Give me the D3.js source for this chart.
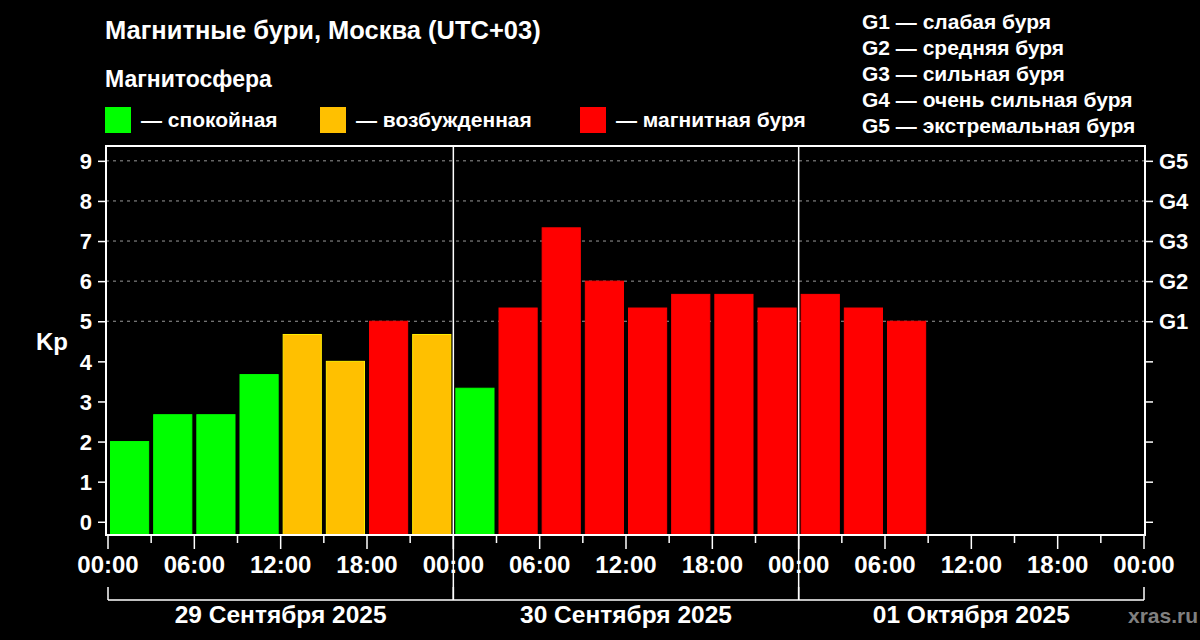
<!DOCTYPE html><html><head><meta charset="utf-8"><script src="https://cdn.jsdelivr.net/npm/d3@7"></script>
<style>body{margin:0;background:#000}svg{font-family:"Liberation Sans",Arial,sans-serif;font-weight:bold}</style></head><body><svg width="1200" height="640"></svg><script>
const kp=[2,2.67,2.67,3.67,4.67,4,5,4.67,3.33,5.33,7.33,6,5.33,5.67,5.67,5.33,5.67,5.33,5];
const days=["29 Сентября 2025","30 Сентября 2025","01 Октября 2025"];
const yTicks=[0,1,2,3,4,5,6,7,8,9];
const gLabels=["G1","G2","G3","G4","G5"];
const gLegend=["G1 — слабая буря","G2 — средняя буря","G3 — сильная буря","G4 — очень сильная буря","G5 — экстремальная буря"];
const legend=[["— спокойная","#00ff00"],["— возбужденная","#ffc000"],["— магнитная буря","#ff0000"]];
const svg=d3.select("svg");
const L=106,R=1145,T=146,B=535,x0=108,x1=1144;
const x=d3.scaleLinear().domain([0,72]).range([x0,x1]);
const y=d3.scaleLinear().domain([-0.33,9.37]).range([B,T]);
const col=v=>v<4?"#00ff00":v<5?"#ffc000":"#ff0000";
svg.append("text").attr("x",105).attr("y",39).attr("fill","#fff").attr("font-size",25.5).text("Магнитные бури, Москва (UTC+03)");
svg.append("text").attr("x",105).attr("y",87).attr("fill","#fff").attr("font-size",23).text("Магнитосфера");
const lx=[105,320,580];
legend.forEach((d,i)=>{svg.append("rect").attr("x",lx[i]).attr("y",107).attr("width",26).attr("height",26).attr("fill",d[1]);
svg.append("text").attr("x",lx[i]+36).attr("y",127).attr("fill","#fff").attr("font-size",21).text(d[0]);});
gLegend.forEach((t,i)=>svg.append("text").attr("x",862).attr("y",29+i*26).attr("fill","#fff").attr("font-size",21).text(t));
svg.selectAll(".g").data([5,6,7,8,9]).join("line").attr("x1",L).attr("x2",R).attr("y1",d=>y(d)).attr("y2",d=>y(d)).attr("stroke","#999").attr("stroke-dasharray","3,4");
svg.selectAll(".b").data(kp).join("rect").attr("x",(d,i)=>x(i*3)+2.5).attr("width",x(3)-x(0)-5).attr("y",d=>y(d)).attr("height",d=>y(-0.33)-y(d)).attr("fill",col).attr("stroke",d=>d3.color(col(d)).brighter(0.6)).attr("stroke-width",1);
svg.append("rect").attr("x",L).attr("y",T).attr("width",R-L).attr("height",B-T).attr("fill","none").attr("stroke","#fff").attr("stroke-width",2);
[24,48].forEach(h=>svg.append("line").attr("x1",x(h)).attr("x2",x(h)).attr("y1",T).attr("y2",600).attr("stroke","#fff").attr("stroke-width",1.5));
const ya=svg.append("g").attr("transform",`translate(${L},0)`).call(d3.axisLeft(y).tickValues(yTicks).tickSize(8).tickPadding(6));
const yb=svg.append("g").attr("transform",`translate(${R},0)`).call(d3.axisRight(y).tickValues(yTicks).tickSize(8).tickFormat(d=>d>=5?gLabels[d-5]:"").tickPadding(6));
[ya,yb].forEach(g=>{g.select(".domain").remove();g.selectAll("line").attr("stroke","#fff").attr("stroke-width",1.5);g.selectAll("text").attr("fill","#fff").attr("font-size",22).attr("font-family","Liberation Sans").attr("font-weight","bold");});
ya.selectAll("text").attr("dy","0.35em");yb.selectAll("text").attr("dy","0.35em").attr("x",14);
svg.append("text").attr("x",52).attr("y",350).attr("text-anchor","middle").attr("fill","#fff").attr("font-size",24).text("Kp");
const hrs=d3.range(0,73,3);
const xa=svg.append("g").attr("transform",`translate(0,${B})`).call(d3.axisBottom(x).tickValues(hrs).tickSize(0).tickFormat(""));
xa.select(".domain").remove();
svg.selectAll(".xt").data(hrs).join("line").attr("x1",d=>x(d)).attr("x2",d=>x(d)).attr("y1",B).attr("y2",d=>d%6==0?B+14:B+8).attr("stroke","#fff").attr("stroke-width",1.5);
svg.selectAll(".xl").data(d3.range(0,73,6)).join("text").attr("x",d=>x(d)).attr("y",573).attr("text-anchor","middle").attr("fill","#fff").attr("font-size",24).text(d=>String(d%24).padStart(2,"0")+":00");
svg.append("line").attr("x1",x(0)).attr("x2",x(72)).attr("y1",600).attr("y2",600).attr("stroke","#fff").attr("stroke-width",1.5);
[0,24,48,72].forEach(h=>svg.append("line").attr("x1",x(h)).attr("x2",x(h)).attr("y1",587).attr("y2",600).attr("stroke","#fff").attr("stroke-width",1.5));
days.forEach((d,i)=>svg.append("text").attr("x",x(i*24+12)).attr("y",623).attr("text-anchor","middle").attr("fill","#fff").attr("font-size",24.5).text(d));
svg.append("text").attr("x",1198).attr("y",623).attr("text-anchor","end").attr("fill","#808080").attr("font-size",21).text("xras.ru");
</script></body></html>
